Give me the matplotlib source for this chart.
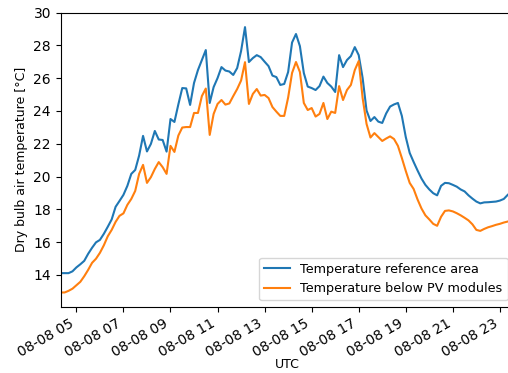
import numpy as np
import pandas as pd
import matplotlib
matplotlib.use('Agg')
import matplotlib.pyplot as plt
import matplotlib.dates as mdates

# ==========================================
# Data (10 min values, 08-08 04:20 UTC onwards)
# ==========================================
start_time = '2018-08-08 04:20'
step = '10min'

temp_reference = [
    14.10, 14.10, 14.10, 14.21, 14.45, 14.64,
    14.85, 15.28, 15.65, 15.98, 16.13, 16.50,
    16.93, 17.38, 18.15, 18.51, 18.88, 19.43,
    20.16, 20.40, 21.28, 22.48, 21.53, 21.99,
    22.78, 22.26, 22.23, 21.52, 23.51, 23.33,
    24.40, 25.40, 25.38, 24.37, 25.71, 26.50,
    27.11, 27.72, 24.49, 25.46, 26.01, 26.68,
    26.47, 26.41, 26.20, 26.62, 27.66, 29.12,
    26.99, 27.23, 27.41, 27.29, 27.01, 26.74,
    26.16, 26.07, 25.59, 25.65, 26.38, 28.18,
    28.70, 27.96, 26.32, 25.49, 25.40, 25.28,
    25.52, 26.10, 25.71, 25.49, 25.16, 27.41,
    26.68, 27.11, 27.35, 27.90, 27.41, 26.01,
    24.03, 23.39, 23.63, 23.35, 23.27, 23.85,
    24.27, 24.40, 24.49, 23.70, 22.41, 21.44,
    20.89, 20.37, 19.88, 19.49, 19.21, 18.98,
    18.85, 19.43, 19.61, 19.59, 19.49, 19.38,
    19.21, 19.09, 18.85, 18.65, 18.47, 18.36,
    18.42, 18.43, 18.45, 18.47, 18.53, 18.63,
    18.88,
]

temp_below_pv = [
    12.92, 12.92, 13.02, 13.15, 13.36, 13.57,
    13.91, 14.30, 14.73, 14.98, 15.34, 15.80,
    16.35, 16.74, 17.23, 17.60, 17.75, 18.27,
    18.63, 19.12, 20.16, 20.71, 19.61, 19.96,
    20.46, 20.88, 20.57, 20.16, 21.87, 21.50,
    22.50, 22.99, 23.02, 23.02, 23.88, 23.88,
    24.91, 25.37, 22.54, 23.82, 24.43, 24.67,
    24.39, 24.46, 24.91, 25.34, 25.86, 26.98,
    24.43, 25.04, 25.34, 24.94, 24.98, 24.79,
    24.24, 23.96, 23.70, 23.70, 24.82, 26.32,
    26.99, 26.38, 24.49, 24.06, 24.18, 23.66,
    23.82, 24.49, 23.51, 23.96, 23.88, 25.52,
    24.67, 25.28, 25.59, 26.50, 27.05, 24.79,
    23.21, 22.38, 22.65, 22.41, 22.17, 22.32,
    22.45, 22.29, 21.87, 21.13, 20.34, 19.61,
    19.24, 18.60, 18.05, 17.63, 17.38, 17.11,
    16.99, 17.54, 17.90, 17.93, 17.87, 17.76,
    17.63, 17.48, 17.32, 17.08, 16.74, 16.68,
    16.80, 16.90, 16.97, 17.05, 17.11, 17.19,
    17.25,
]

labels = ['Temperature reference area', 'Temperature below PV modules']

times = pd.date_range(start_time, periods=len(temp_reference), freq=step)

# ==========================================
# Plot
# ==========================================
fig = plt.figure(figsize=(5.08, 3.73), dpi=100)
ax = fig.add_axes([0.1195, 0.1777, 0.8923, 0.7882])

ax.plot(times, temp_reference, color='#1f77b4', label=labels[0])
ax.plot(times, temp_below_pv, color='#ff7f0e', label=labels[1])

ax.set_xlim(pd.Timestamp('2018-08-08 04:20'), pd.Timestamp('2018-08-08 23:36'))
ax.set_ylim(12.05, 30.0)
ax.set_yticks(np.arange(14, 31, 2))

ax.xaxis.set_major_locator(mdates.HourLocator(byhour=range(5, 24, 2)))
ax.xaxis.set_major_formatter(mdates.DateFormatter('%m-%d %H'))
for lbl in ax.get_xticklabels():
    lbl.set_rotation(30)
    lbl.set_ha('right')

# axis labels and legend are a bit smaller than the tick labels
ax.set_xlabel('UTC', fontsize=9, labelpad=-1)
ax.set_ylabel('Dry bulb air temperature [°C]', fontsize=9)
ax.legend(loc='lower right', fontsize=9.2)

fig.savefig('out.png', dpi=100)
